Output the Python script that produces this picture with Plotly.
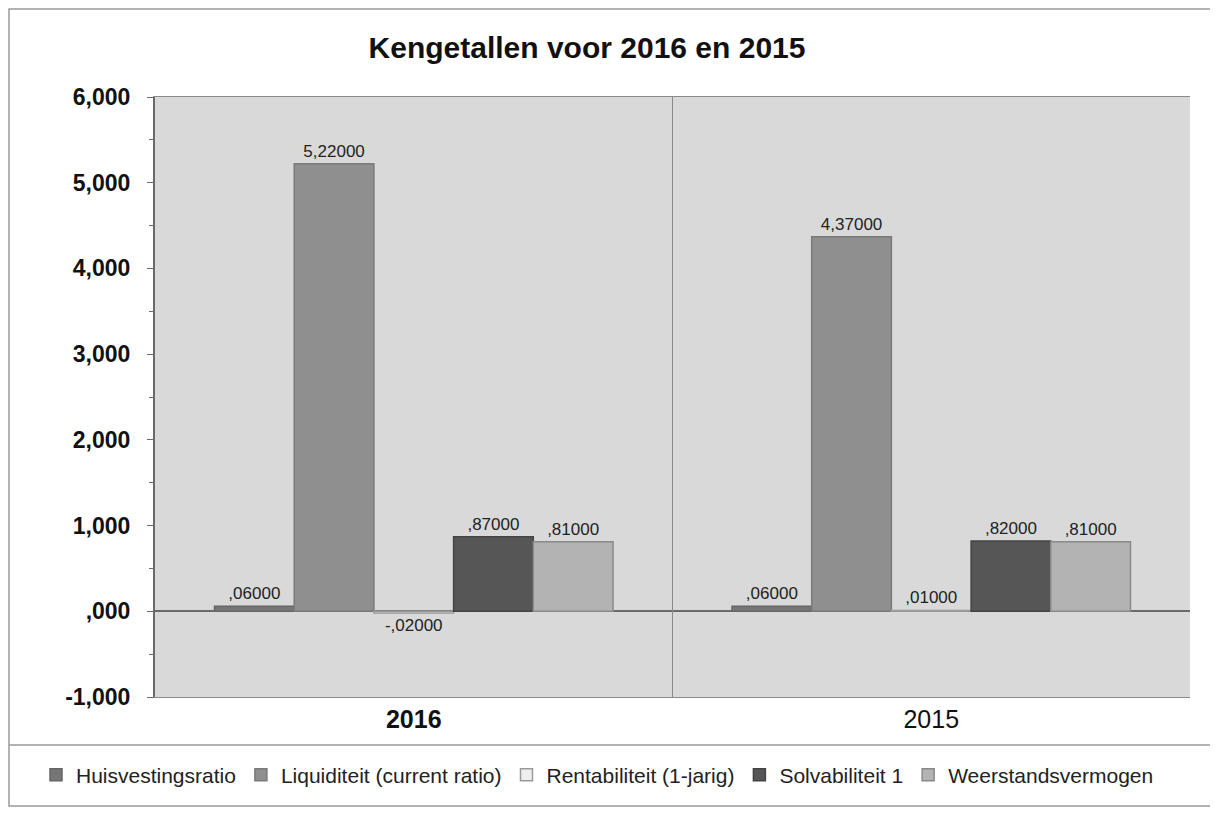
import plotly.graph_objects as go

years = ["2016", "2015"]
series_names = ["Huisvestingsratio", "Liquiditeit (current ratio)", "Rentabiliteit (1-jarig)",
                "Solvabiliteit 1", "Weerstandsvermogen"]
huisvesting = [0.06, 0.06]
liquiditeit = [5.22, 4.37]
rentabiliteit = [-0.02, 0.01]
solvabiliteit = [0.87, 0.82]
weerstand = [0.81, 0.81]
y_tickvals = [-1, 0, 1, 2, 3, 4, 5, 6]
y_ticktext = ["-1,000", ",000", "1,000", "2,000", "3,000", "4,000", "5,000", "6,000"]

values = [huisvesting, liquiditeit, rentabiliteit, solvabiliteit, weerstand]
colors = ["#767676", "#8f8f8f", "#eeeeee", "#565656", "#b3b3b3"]
lines = ["#666666", "#7a7a7a", "#9a9a9a", "#444444", "#8a8a8a"]


def fmt(v):
    s = f"{abs(v):.5f}".replace(".", ",")
    if s.startswith("0"):
        s = s[1:]
    return ("-" if v < 0 else "") + s


FONT = "Arial, Liberation Sans, sans-serif"
W, H = 1202, 806
L, R, T, B = 147, 20, 89, 117
PW, PH = W - L - R, H - T - B

fig = go.Figure()
for name, vals, c, lc in zip(series_names, values, colors, lines):
    fig.add_trace(go.Bar(
        name=name, x=years, y=vals,
        marker=dict(color=c, line=dict(color=lc, width=1.5)),
        text=[fmt(v) for v in vals], textposition="outside",
        textfont=dict(size=17, color="#222222", family=FONT),
        constraintext="none",
        cliponaxis=False,
    ))

fig.update_layout(
    width=W, height=H,
    paper_bgcolor="white", plot_bgcolor="#d9d9d9",
    barmode="group", bargap=0.23, bargroupgap=0,
    margin=dict(l=L, r=R, t=T, b=B, autoexpand=False),
    title=dict(text="<b>Kengetallen voor 2016 en 2015</b>", x=579 / W, xanchor="center",
               y=1 - 39 / H, yanchor="middle", font=dict(size=30, family=FONT, color="#111111")),
    font=dict(family=FONT, color="#111111"),
    showlegend=True,
    legend=dict(orientation="h", x=-(L - 28) / PW, xanchor="left",
                xref="paper", yref="paper",
                y=-78 / PH, yanchor="middle",
                font=dict(size=21, family=FONT, color="#222222"),
                itemwidth=30, traceorder="normal", bgcolor="rgba(0,0,0,0)"),
    uniformtext=dict(mode=False),
)
fig.update_yaxes(
    range=[-1, 6], tickvals=y_tickvals, ticktext=["<b>%s</b>" % t for t in y_ticktext],
    tickfont=dict(size=23, family=FONT, color="#111111"),
    ticklabelstandoff=12,
    showgrid=False, zeroline=True, zerolinecolor="#6a6a6a", zerolinewidth=1.5,
    showline=True, linecolor="#6a6a6a", linewidth=2,
    ticks="outside", ticklen=6, tickcolor="#6a6a6a",
    minor=dict(ticks="outside", ticklen=4, tickcolor="#6a6a6a", dtick=0.5, showgrid=False),
)
fig.update_xaxes(
    tickvals=years, ticktext=["<b>2016</b>", "2015"],
    tickfont=dict(size=25, family=FONT, color="#111111"),
    showline=True, linecolor="#8a8a8a", linewidth=1, mirror=True, ticks="",
)

# divider between categories
fig.add_shape(type="line", xref="x", yref="paper", x0=0.5, x1=0.5, y0=0, y1=1,
              line=dict(color="#8a8a8a", width=1))
# outer border and legend separator
fig.add_shape(type="rect", xref="paper", yref="paper",
              x0=-(L - 1) / PW, x1=(PW + R + 5) / PW, y0=-(B - 8) / PH, y1=1 + (T - 1) / PH,
              line=dict(color="#9a9a9a", width=1.5), fillcolor="rgba(0,0,0,0)", layer="below")
fig.add_shape(type="line", xref="paper", yref="paper",
              x0=-(L - 1) / PW, x1=(PW + R) / PW, y0=-48 / PH, y1=-48 / PH,
              line=dict(color="#9a9a9a", width=1.5))

fig.write_html("out.html")
